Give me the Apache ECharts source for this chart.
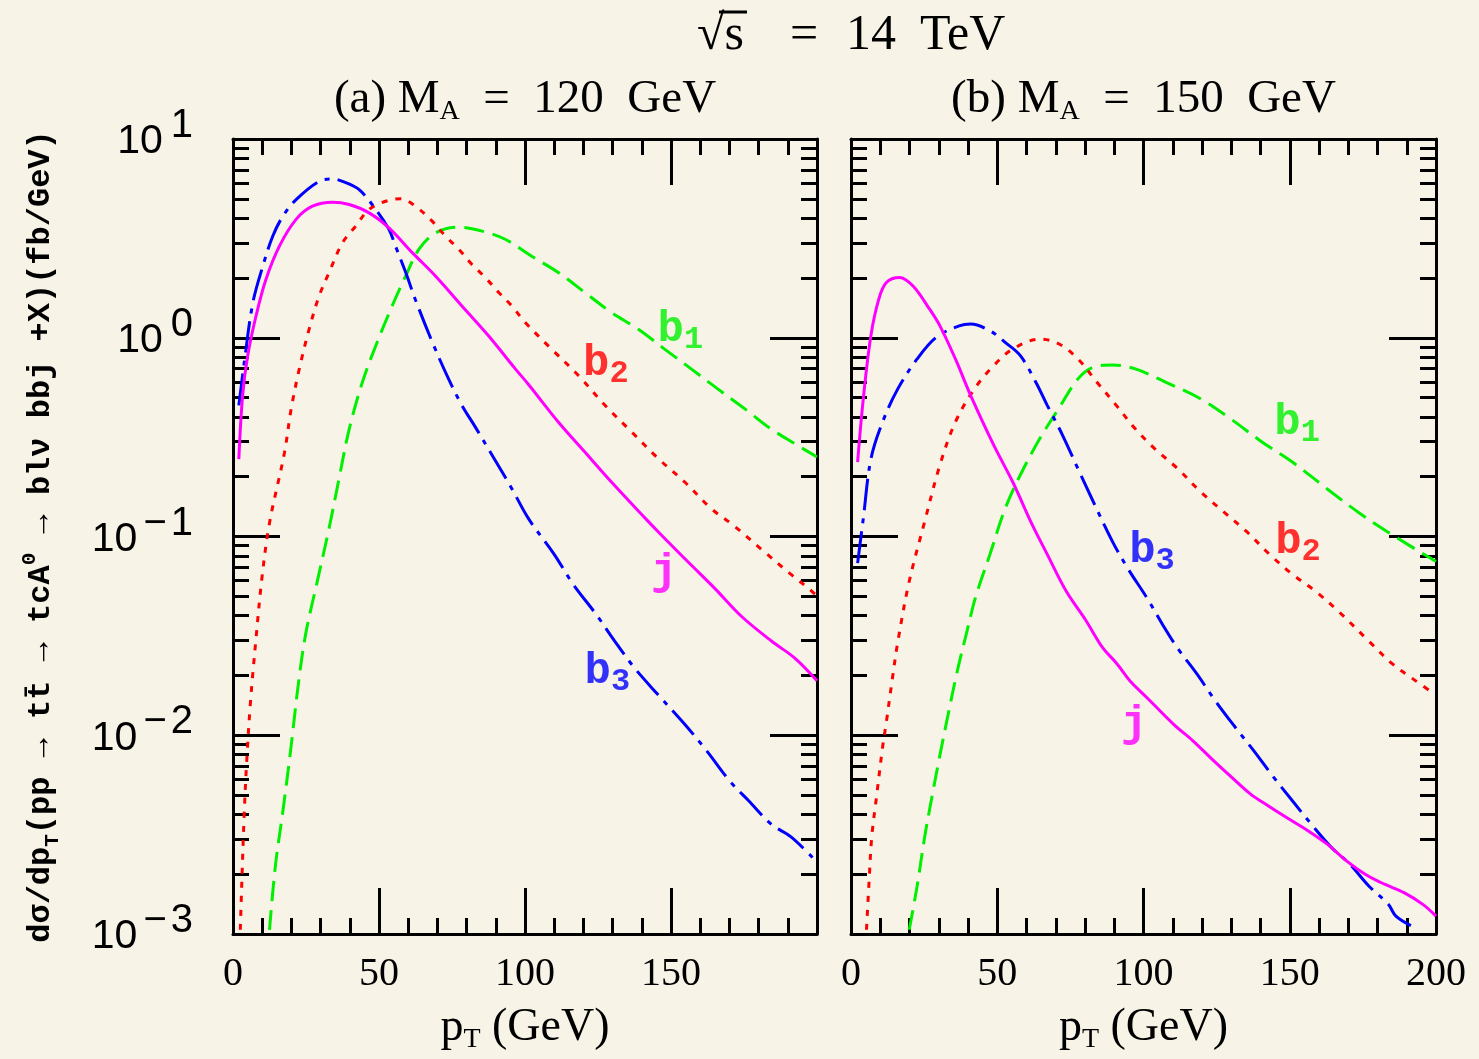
<!DOCTYPE html>
<html>
<head>
<meta charset="utf-8">
<title>pT distributions, sqrt(s) = 14 TeV</title>
<script src="https://cdn.jsdelivr.net/npm/echarts@6.0.0/dist/echarts.min.js"></script>
<style>
  html, body { margin: 0; padding: 0; background: #f7f3e7; }
  #chart { width: 1479px; height: 1059px; }
</style>
</head>
<body>
<div id="chart"></div>
<script>
// ---- Data: [pT (GeV), dσ/dpT (fb/GeV)] ----
// (a) M_A = 120 GeV
const ma120_b1 = [[12.5,0.00105],[14.5,0.00219],[17.1,0.00417],[19.7,0.00832],[22.4,0.0182],[24.9,0.0324],[28.8,0.0589],[32.9,0.110],[36.3,0.195],[39.8,0.347],[44.3,0.597],[48.9,0.912],[54.5,1.445],[59.1,2.04],[63.7,2.79],[69.4,3.37],[77.3,3.60],[85.3,3.44],[93.2,3.13],[102.3,2.57],[111.4,2.13],[120.5,1.69],[129.6,1.34],[138.7,1.107],[147.8,0.877],[156.9,0.697],[166,0.553],[175.2,0.440],[184.2,0.348],[193.3,0.288],[200,0.251]];
const ma120_b2 = [[2.5,0.00105],[3.0,0.00178],[3.8,0.00389],[4.7,0.00741],[6.0,0.0148],[7.9,0.0309],[9.9,0.0617],[12.5,0.117],[17.6,0.263],[19.9,0.437],[22.7,0.697],[26.1,1.107],[29.5,1.622],[32.9,2.128],[37.5,3.006],[42,3.64],[46.6,4.42],[52.3,4.86],[57.4,5.01],[62.5,4.59],[68.2,3.86],[72.8,3.24],[77.3,2.79],[81.8,2.34],[86.4,2.01],[91,1.69],[95.5,1.445],[100.1,1.194],[109.1,0.877],[118.3,0.646],[127.4,0.457],[136.5,0.336],[145.6,0.247],[154.7,0.188],[163.8,0.138],[171,0.115],[181.9,0.0839],[191,0.0646],[197,0.055],[200,0.0501]];
const ma120_b3 = [[2.0,0.457],[3.9,0.759],[6.8,1.50],[10.2,2.29],[13.6,3.24],[17.0,4.07],[21.6,4.95],[29.5,6.12],[34.1,6.30],[37.5,6.12],[43.2,5.56],[48.9,4.42],[53.4,3.51],[55.7,2.88],[59.1,2.14],[62.5,1.55],[68.2,0.955],[73.9,0.617],[78.4,0.457],[83.0,0.355],[88.7,0.257],[95.5,0.174],[101.2,0.123],[110,0.0813],[116.5,0.0575],[124.3,0.0407],[130.9,0.0295],[137.4,0.0219],[145.2,0.0162],[154.4,0.0115],[162.3,0.00832],[170.1,0.00589],[176.6,0.00468],[184.5,0.00355],[191,0.00309],[198.8,0.0024]];
const ma120_j = [[2.0,0.245],[3.3,0.513],[5.05,0.813],[7.9,1.29],[11.3,1.97],[15.9,2.89],[21.6,3.94],[27.2,4.59],[34.1,4.81],[39.8,4.68],[46.6,4.25],[53.4,3.57],[61.4,2.68],[69.4,2.04],[78.4,1.445],[87.5,1.023],[96.7,0.697],[101.2,0.582],[111.4,0.377],[120.5,0.266],[129.6,0.188],[141.3,0.123],[146.6,0.102],[155.7,0.0748],[164.9,0.055],[174,0.0398],[184.5,0.0297],[192.3,0.0245],[200,0.0188]];

// (b) M_A = 150 GeV
const ma150_b1 = [[19.9,0.00105],[22.6,0.00174],[25.2,0.00309],[27.8,0.00501],[30.4,0.00794],[33,0.0123],[36.3,0.0209],[39.6,0.0331],[42.5,0.049],[47.5,0.0813],[52.7,0.138],[57.9,0.204],[64.5,0.310],[71,0.440],[77.6,0.621],[82.8,0.711],[89.4,0.729],[97.2,0.697],[107.7,0.597],[119.5,0.493],[130,0.389],[140.5,0.299],[150.9,0.237],[162.7,0.174],[174.5,0.129],[185,0.102],[200,0.0748]];
const ma150_b2 = [[5.3,0.00105],[6.2,0.00186],[7.1,0.00309],[8.8,0.00501],[10.8,0.00871],[12.1,0.0117],[14,0.0186],[16,0.0295],[19.9,0.0594],[25.2,0.119],[30.4,0.229],[35.7,0.377],[42.2,0.553],[48.8,0.724],[55.3,0.877],[64.5,0.984],[71,0.933],[77.6,0.782],[84.1,0.597],[90.7,0.457],[97.2,0.348],[103.8,0.277],[111.6,0.220],[119.5,0.168],[127.4,0.133],[135.2,0.106],[143.1,0.0813],[150.9,0.0646],[158.8,0.053],[166.6,0.0421],[177.1,0.0297],[185,0.0229],[191.5,0.0195],[199,0.0163]];
const ma150_b3 = [[2.26,0.0735],[4.2,0.123],[6.8,0.245],[10.8,0.377],[16,0.553],[22.6,0.782],[29.1,1.005],[37,1.148],[40.9,1.172],[47.5,1.084],[52.7,0.948],[57.9,0.813],[63.2,0.597],[67.1,0.457],[72.3,0.324],[77.6,0.219],[82.8,0.150],[89.4,0.0942],[94.6,0.0692],[101.2,0.049],[106.4,0.0363],[111.6,0.0275],[118.2,0.0204],[124.7,0.0148],[131.3,0.011],[137.8,0.00832],[144.4,0.00617],[150.9,0.00468],[157.5,0.00355],[164,0.00275],[170.6,0.00224],[177.1,0.00174],[183.7,0.00141],[186.3,0.00123],[191.5,0.0011]];
const ma150_j = [[2.26,0.237],[4.2,0.493],[6.8,1.023],[9.5,1.563],[12.1,1.897],[16.6,2.01],[21.2,1.82],[26.5,1.419],[30.4,1.148],[35.7,0.782],[40.9,0.513],[48.8,0.288],[55.3,0.188],[61.9,0.115],[67.1,0.0813],[73.6,0.053],[80.2,0.038],[86.1,0.0275],[90.7,0.0231],[95.9,0.0184],[101.2,0.01545],[110.3,0.01135],[116.9,0.00938],[123.4,0.00759],[130,0.00617],[136.5,0.00507],[143.1,0.00437],[149.6,0.0038],[156.2,0.00331],[162.7,0.00284],[169.3,0.00234],[175.8,0.0020],[182.4,0.00178],[188.9,0.00162],[195.5,0.00141],[200,0.00123]];

// Curve tags: [name, pT, value] where each tag sits
const tags120 = [['b1', 153.2, 1.10], ['b2', 127.7, 0.738], ['j', 147.7, 0.0653], ['b3', 128.2, 0.0209]];
const tags150 = [['b1', 152.5, 0.372], ['b2', 152.8, 0.0935], ['b3', 102.9, 0.0843], ['j', 96.8, 0.0113]];

// Axis ranges and tick values
const xRange = [0, 200];
const xMajorStep = 50;
const yRange = [0.001, 10];
const yMinorTicks = [];
for (let e = -3; e <= 0; e++) {
  for (let m = 2; m <= 9; m++) yMinorTicks.push(+(m * Math.pow(10, e)).toPrecision(3));
}

const panelMasses = ['120', '150'];
const panelLetters = ['(a)', '(b)'];

// ---- Styles ----
const SERIF = '"Liberation Serif", "DejaVu Serif", serif';
const MONO = '"Liberation Mono", "DejaVu Sans Mono", monospace';
const SANS = '"Liberation Sans", "DejaVu Sans", sans-serif';
const INK = '#000';
const curveStyle = {
  b1: { color: '#00f000', type: [20, 9] },
  b2: { color: '#ff0000', type: [6, 8] },
  b3: { color: '#0000ff', type: [32, 8, 5, 8] },
  j:  { color: '#ff00ff', type: 'solid' }
};

const gridBoxes = [
  { left: 233, top: 139, width: 584, height: 797 },
  { left: 851, top: 139, width: 585, height: 797 }
];

const panelData = [
  { b1: ma120_b1, b2: ma120_b2, b3: ma120_b3, j: ma120_j, tags: tags120 },
  { b1: ma150_b1, b2: ma150_b2, b3: ma150_b3, j: ma150_j, tags: tags150 }
];

const frameLine = { show: true, onZero: false, lineStyle: { color: INK, width: 3 } };
const majorTick = (len) => ({ show: true, inside: true, length: len, lineStyle: { color: INK, width: 3 } });

function expLabel(v) {
  const e = Math.round(Math.log10(v));
  return '{b|10}' + (e < 0 ? '{m|\u2212}{n|' + (-e) + '}' : '{s|' + e + '}');
}

const xAxes = [], yAxes = [], series = [];

gridBoxes.forEach((g, gi) => {
  const xBase = {
    type: 'value', gridIndex: gi, min: xRange[0], max: xRange[1], interval: xMajorStep,
    axisLine: frameLine, axisTick: majorTick(46),
    minorTick: { show: true, splitNumber: 5, length: 16, lineStyle: { color: INK, width: 3 } },
    splitLine: { show: false }, minorSplitLine: { show: false }
  };
  const xBottomIndex = xAxes.length;
  xAxes.push(Object.assign({}, xBase, {
    position: 'bottom',
    axisLabel: {
      show: true, margin: 20, color: INK, fontFamily: SERIF, fontSize: 40,
      formatter: (v) => (gi === 0 && v === 200) ? '' : String(v)
    },
    name: '{p|p}{t|T}{p| (GeV)}',
    nameLocation: 'middle', nameGap: 68,
    nameTextStyle: {
      rich: {
        p: { fontFamily: SERIF, fontSize: 46, lineHeight: 52, color: INK },
        t: { fontFamily: SERIF, fontSize: 28, lineHeight: 28, verticalAlign: 'bottom', color: INK }
      }
    }
  }));
  xAxes.push(Object.assign({}, xBase, { position: 'top', axisLabel: { show: false } }));

  const yBase = {
    type: 'log', logBase: 10, gridIndex: gi, min: yRange[0], max: yRange[1],
    splitLine: { show: false }, minorTick: { show: false }
  };
  const yLeftIndex = yAxes.length;
  const supStyle = { fontFamily: SANS, fontSize: 40, lineHeight: 40, verticalAlign: 'top', color: INK };
  const yLeft = Object.assign({}, yBase, {
    position: 'left', axisLine: frameLine, axisTick: majorTick(47),
    axisLabel: gi === 0 ? {
      show: true, margin: 40, formatter: expLabel, padding: [6, 0, 0, 0],
      rich: {
        b: { fontFamily: SANS, fontSize: 41, lineHeight: 72, color: INK },
        s: Object.assign({ padding: [0, 0, 0, 8] }, supStyle),
        m: Object.assign({ padding: [0, 4, 0, 6] }, supStyle),
        n: supStyle
      }
    } : { show: false }
  });
  if (gi === 0) {
    Object.assign(yLeft, {
      name: '{t|dσ/dp}{d|T}{t|(pp → tt\u0304 → tcA}{u|0}{t| → blν bbj +X)(fb/GeV)}',
      nameLocation: 'middle', nameRotate: 90, nameGap: 170,
      nameTextStyle: {
        rich: {
          t: { fontFamily: MONO, fontWeight: 'bold', fontSize: 32, lineHeight: 44, color: INK },
          d: { fontFamily: MONO, fontWeight: 'bold', fontSize: 21, lineHeight: 21, verticalAlign: 'bottom', color: INK },
          u: { fontFamily: MONO, fontWeight: 'bold', fontSize: 21, lineHeight: 21, verticalAlign: 'top', color: INK }
        }
      }
    });
  }
  yAxes.push(yLeft);
  yAxes.push(Object.assign({}, yBase, {
    position: 'right', axisLine: frameLine, axisTick: majorTick(47), axisLabel: { show: false }
  }));
  // Minor decade ticks (2..9) on both sides
  ['left', 'right'].forEach((pos) => {
    yAxes.push(Object.assign({}, yBase, {
      position: pos, axisLine: { show: false, onZero: false },
      axisTick: { show: true, inside: true, length: 16, customValues: yMinorTicks, lineStyle: { color: INK, width: 3 } },
      axisLabel: { show: false }
    }));
  });

  const d = panelData[gi];
  ['b1', 'b2', 'b3', 'j'].forEach((k) => {
    series.push({
      type: 'line', name: k, xAxisIndex: xBottomIndex, yAxisIndex: yLeftIndex,
      data: d[k], showSymbol: false, symbol: 'none', smooth: 0.35, clip: true, silent: true,
      lineStyle: { color: curveStyle[k].color, width: 3, type: curveStyle[k].type, cap: 'butt' },
      z: k === 'j' ? 3 : 2
    });
  });
  series.push({
    type: 'scatter', xAxisIndex: xBottomIndex, yAxisIndex: yLeftIndex, symbolSize: 0, silent: true,
    data: d.tags.map((t) => ({
      value: [t[1], t[2]], name: t[0],
      label: { color: curveStyle[t[0]].color }
    })),
    label: {
      show: true, position: 'inside',
      formatter: (p) => p.name.length > 1 ? '{m|' + p.name[0] + '}{s|' + p.name.slice(1) + '}' : '{m|' + p.name + '}',
      rich: {
        m: { fontFamily: MONO, fontWeight: 'bold', fontSize: 44, lineHeight: 52 },
        s: { fontFamily: MONO, fontWeight: 'bold', fontSize: 32, lineHeight: 32, verticalAlign: 'bottom' }
      }
    },
    z: 5
  });
});

// Titles
const titleRich = {
  t: { fontFamily: SERIF, fontSize: 47, lineHeight: 52, fill: INK },
  s: { fontFamily: SERIF, fontSize: 28, lineHeight: 28, verticalAlign: 'bottom', fill: INK }
};
const topRich = {
  a: { fontFamily: SERIF, fontSize: 50, width: 93, fill: INK },
  b: { fontFamily: SERIF, fontSize: 50, width: 56, fill: INK },
  c: { fontFamily: SERIF, fontSize: 50, width: 74, fill: INK },
  d: { fontFamily: SERIF, fontSize: 50, fill: INK }
};
const graphic = [
  {
    type: 'text', x: 697, y: 36,
    style: { text: '{a|√s}{b|=}{c|14}{d|TeV}', rich: topRich, align: 'left', verticalAlign: 'middle' }
  },
  { type: 'line', shape: { x1: 719, y1: 12, x2: 747, y2: 12 }, style: { stroke: INK, lineWidth: 3 } }
];
gridBoxes.forEach((g, gi) => {
  graphic.push({
    type: 'text', x: g.left + g.width / 2, y: 100,
    style: {
      text: '{t|' + panelLetters[gi] + ' M}{s|A}{t|  =  ' + panelMasses[gi] + '  GeV}',
      rich: titleRich, align: 'center', verticalAlign: 'middle'
    }
  });
});

const chart = echarts.init(document.getElementById('chart'), null, { renderer: 'canvas' });
chart.setOption({
  backgroundColor: '#f7f3e7',
  animation: false,
  grid: gridBoxes.map((g) => Object.assign({ containLabel: false }, g)),
  xAxis: xAxes,
  yAxis: yAxes,
  series: series,
  graphic: graphic
});
</script>
</body>
</html>
